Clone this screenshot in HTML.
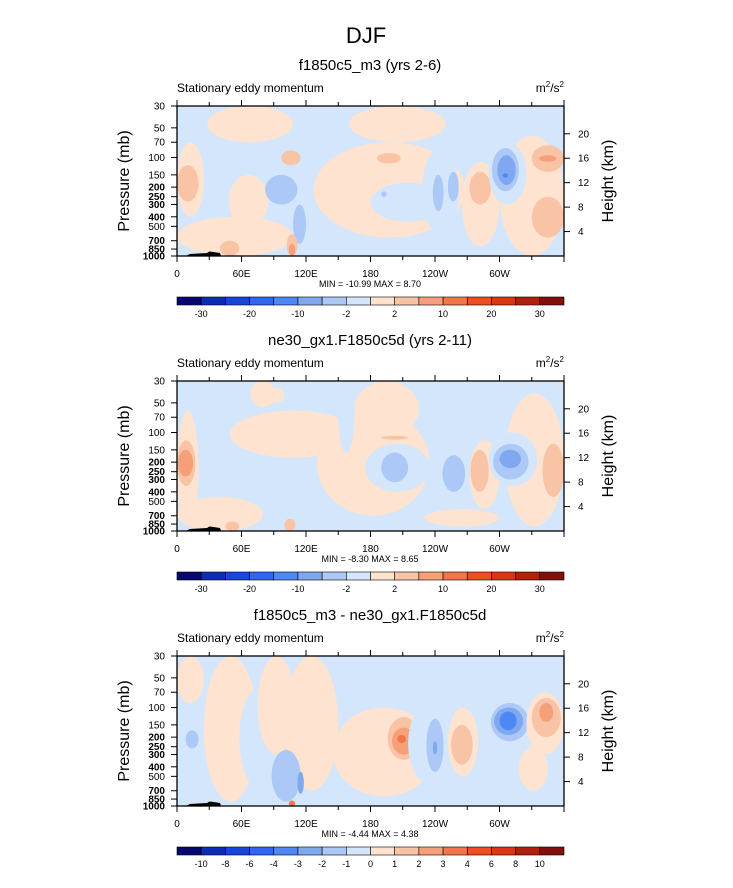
<!DOCTYPE html>
<html><head><meta charset="utf-8"><style>
body{margin:0;background:#fff;}
svg{display:block;font-family:"Liberation Sans",Arial,sans-serif;}
</style></head><body>
<svg id="fig" width="733" height="888" viewBox="0 0 733 888" xmlns="http://www.w3.org/2000/svg">
<text x="366" y="43" font-size="22" text-anchor="middle">DJF</text>
</svg>
<script>
// ---- data ----
const lonTicks = [0, 60, 120, 180, 240, 300];
const lonTickLabels = ["0", "60E", "120E", "180", "120W", "60W"];
const presTicks = [30, 50, 70, 100, 150, 200, 250, 300, 400, 500, 700, 850, 1000];
const heightTicks = [4, 8, 12, 16, 20];
const panelTitles = ["f1850c5_m3 (yrs 2-6)", "ne30_gx1.F1850c5d (yrs 2-11)", "f1850c5_m3 - ne30_gx1.F1850c5d"];
const minMaxTexts = ["MIN = -10.99  MAX =   8.70", "MIN = -8.30  MAX =   8.65", "MIN = -4.44  MAX =   4.38"];
const cbLabelsA = ["-30", "-20", "-10", "-2", "2", "10", "20", "30"];
const cbLabelsB = ["-10", "-8", "-6", "-4", "-3", "-2", "-1", "0", "1", "2", "3", "4", "6", "8", "10"];
const colors = ["#06086e","#0a2db4","#1646dc","#2f66f2","#4e88f4","#7fa8f1","#abc8f6","#d3e6fb","#fee3d0","#f9c3a6","#f6a07a","#f2764a","#ee4f1f","#dc3512","#b0200b","#82100a"];
// blobs: [lon0, lon1, pTop, pBot, level]  level -4..-1 blue (-1 = lightest), 1..4 orange
const blobs1 = [
 [28,108,30,70,1],[160,250,30,70,1],[127,268,70,650,1],[185,226,70,140,1],
 [180,250,180,450,-1],[0,25,70,400,1],[0,20,120,280,2],[0,108,400,1000,1],[48,85,150,500,1],
 [82,112,150,300,-2],[108,120,300,750,-2],[97,115,85,120,2],[186,208,90,115,2],
 [40,58,700,1000,2],[102,112,600,1000,2],[104,110,750,1000,3],
 [228,262,80,600,-1],[238,248,150,350,-2],[252,262,140,280,-2],[190,195,220,250,-2],
 [265,300,110,800,1],[300,360,60,1000,1],[272,292,140,300,2],
 [290,325,70,300,-1],[293,318,80,220,-2],[298,315,95,190,-3],[303,308,145,160,-4],
 [330,360,75,140,2],[337,353,95,110,3],[330,360,250,650,2]
];
const blobs2 = [
 [0,20,60,900,1],[0,17,120,350,2],[1,15,150,280,3],
 [49,167,60,180,1],[55,130,180,500,-1],[68,92,30,55,1],[85,100,35,50,1],
 [165,225,30,110,1],[130,235,60,700,1],[150,165,30,160,-1],
 [175,235,130,400,-1],[190,215,160,320,-2],[190,215,108,118,2],
 [0,80,450,1000,1],[45,58,800,1000,2],[100,110,750,1000,2],[230,300,600,900,1],
 [230,280,130,600,-1],[247,268,170,400,-2],
 [305,360,40,900,1],[340,360,130,450,2],
 [272,300,120,600,1],[273,290,150,400,2],
 [290,335,100,350,-1],[294,327,130,300,-2],[300,320,150,230,-3]
];
const blobs3 = [
 [25,75,30,900,1],[0,25,30,90,1],[8,20,170,260,-2],
 [58,100,60,700,-1],[75,110,30,300,1],[100,150,30,700,1],
 [88,115,270,900,-2],[112,118,450,750,-3],[104,110,880,1000,4],
 [145,240,100,800,1],[196,226,125,340,2],[200,222,160,300,3],[205,213,190,230,4],
 [215,255,90,600,-1],[232,248,130,450,-2],[238,242,220,300,-3],
 [252,280,100,500,1],[255,275,150,380,2],
 [280,360,300,1000,-1],[318,345,250,700,1],
 [290,330,80,250,-1],[292,327,90,220,-2],[295,322,100,190,-3],[300,316,110,170,-4],
 [325,360,70,300,1],[330,357,80,200,2],[337,350,90,140,3]
];
// ---- layout ----
const NS = "http://www.w3.org/2000/svg";
const svg = document.getElementById("fig");
const X0 = 177, W = 387, H = 150;
const panelTops = [106, 381, 656];
function mk(tag, attrs, parent) {
  const e = document.createElementNS(NS, tag);
  for (const k in attrs) e.setAttribute(k, attrs[k]);
  (parent || svg).appendChild(e);
  return e;
}
function xs(lon) { return X0 + lon / 360 * W; }
function makeYs(top) { return p => top + H * Math.log(p / 30) / Math.log(1000 / 30); }
function levelColor(lv) { return lv < 0 ? colors[8 + lv] : colors[7 + lv]; }

function drawPanel(i, blobs, labels) {
  const top = panelTops[i];
  const ys = makeYs(top);
  const g = mk("g", {});
  
  
  const cp = mk("clipPath", { id: "clip" + i }, g);
  mk("rect", { x: X0, y: top, width: W, height: H }, cp);
  const plot = mk("g", { "clip-path": "url(#clip" + i + ")" }, g);
  const bg = mk("rect", { x: X0, y: top, width: W, height: H, fill: colors[7] }, plot);
  
  
  blobs.forEach(b => {
    const x1 = xs(b[0]), x2 = xs(b[1]), y1 = ys(b[2]), y2 = ys(b[3]);
    const el = mk("ellipse", { cx: (x1 + x2) / 2, cy: (y1 + y2) / 2, rx: (x2 - x1) / 2, ry: (y2 - y1) / 2, fill: levelColor(b[4]) }, plot);
    
    
  });
  const topo = mk("path", { d: `M${xs(8)},${top+H} L${xs(12)},${top+H-2} L${xs(28)},${top+H-3} L${xs(30)},${top+H-4.5} L${xs(34)},${top+H-4} L${xs(40)},${top+H-3} L${xs(41)},${top+H} Z`, fill: "#000" }, plot);
  
  
  const frame = mk("rect", { x: X0, y: top, width: W, height: H, fill: "none", stroke: "#000", "stroke-width": 1.3 }, g);
  
  
  for (let lon = 0; lon <= 360; lon += 30) {
    const L = lon % 60 === 0 ? 6 : 4;
    mk("line", { x1: xs(lon), x2: xs(lon), y1: top, y2: top - L, stroke: "#000", "stroke-width": 1 }, g);
    mk("line", { x1: xs(lon), x2: xs(lon), y1: top + H, y2: top + H + L, stroke: "#000", "stroke-width": 1 }, g);
  }
  lonTicks.forEach((lon, k) => {
    const t = mk("text", { x: xs(lon), y: top + H + 21, "font-size": 10, "text-anchor": "middle" }, g);
    t.textContent = lonTickLabels[k];
    
    
  });
  presTicks.forEach(p => {
    mk("line", { x1: X0 - 6, x2: X0, y1: ys(p), y2: ys(p), stroke: "#000", "stroke-width": 1 }, g);
    const t = mk("text", { x: X0 - 12, y: ys(p) + 3.5, "font-size": 10, "text-anchor": "end", "font-weight": (p >= 200 && p <= 400) || p >= 700 ? "bold" : "normal" }, g);
    t.textContent = p;
    
    
  });
  heightTicks.forEach(z => {
    const p = 1000 * Math.exp(-z / 7);
    mk("line", { x1: X0 + W, x2: X0 + W + 6, y1: ys(p), y2: ys(p), stroke: "#000", "stroke-width": 1 }, g);
    const t = mk("text", { x: X0 + W + 14, y: ys(p) + 3.5, "font-size": 10 }, g);
    t.textContent = z;
    
    
  });
  const ttl = mk("text", { x: 370, y: top - 36, "font-size": 15, "text-anchor": "middle" }, g);
  ttl.textContent = panelTitles[i];
  
  
  const lt = mk("text", { x: X0, y: top - 14, "font-size": 12 }, g);
  lt.textContent = "Stationary eddy momentum";
  
  
  const un = mk("text", { x: X0 + W, y: top - 14, "font-size": 12, "text-anchor": "end" }, g);
  un.innerHTML = 'm<tspan dy="-5" font-size="8">2</tspan><tspan dy="5">/s</tspan><tspan dy="-5" font-size="8">2</tspan>';
  
  
  const yl = mk("text", { x: 0, y: 0, "font-size": 16, "text-anchor": "middle", transform: `translate(129,${top + H / 2}) rotate(-90)` }, g);
  yl.textContent = "Pressure (mb)";
  
  
  const yr = mk("text", { x: 0, y: 0, "font-size": 16, "text-anchor": "middle", transform: `translate(613,${top + H / 2}) rotate(-90)` }, g);
  yr.textContent = "Height (km)";
  
  
  const mm = mk("text", { x: 370, y: top + H + 31, "font-size": 9, "text-anchor": "middle" }, g);
  mm.textContent = minMaxTexts[i];
  
  
  const cby = top + H + 41, cbh = 8, bw = W / 16;
  const cb = mk("g", {}, g);
  
  
  colors.forEach((c, k) => {
    const r = mk("rect", { x: X0 + k * bw, y: cby, width: bw, height: cbh, fill: c, stroke: "#000", "stroke-width": 0.6 }, cb);
    
    
  });
  const step = labels.length === 8 ? 2 : 1;
  labels.forEach((s, k) => {
    const pos = step === 2 ? 2 * k + 1 : k + 1;
    const t = mk("text", { x: X0 + pos * bw, y: cby + 20, "font-size": 9, "text-anchor": "middle" }, cb);
    t.textContent = s;
    
    
  });
}
drawPanel(0, blobs1, cbLabelsA);
drawPanel(1, blobs2, cbLabelsA);
drawPanel(2, blobs3, cbLabelsB);
</script>
</body></html>
